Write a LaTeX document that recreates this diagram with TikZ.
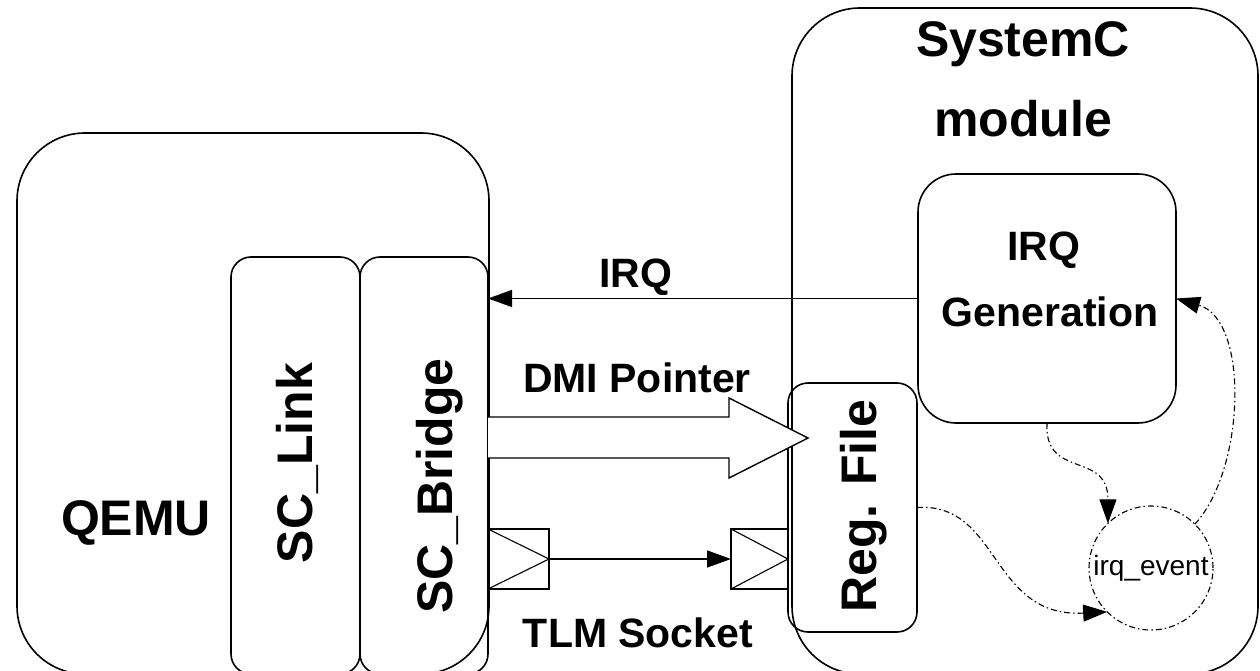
\documentclass[tikz,border=0pt]{standalone}
\usepackage{fontspec}
\setmainfont{Liberation Sans}
\usetikzlibrary{arrows.meta}
\tikzset{
  box/.style={draw=black, line width=1.6pt, fill=none, inner sep=0pt, outer sep=0pt, anchor=north west},
  bigf/.style={font=\fontsize{50}{60}\selectfont\bfseries, inner sep=0pt},
  midf/.style={font=\fontsize{41}{50}\selectfont\bfseries, inner sep=0pt},
  smallf/.style={font=\fontsize{28}{34}\selectfont, inner sep=0pt},
  conn/.style={line width=1.4pt, -{Triangle[length=24pt,width=17pt]}},
  dd/.style={line width=1.1pt, dash pattern=on 6pt off 3pt on 1.5pt off 3pt},
}
\begin{document}
\begin{tikzpicture}[x=1pt,y=-1pt]
\useasboundingbox (0,0) rectangle (1260,671);
% outer boxes
\node[box, rounded corners=68pt, minimum width=472pt, minimum height=541pt] (qemu) at (17,133) {};
\node[box, rounded corners=68pt, minimum width=466pt, minimum height=666pt] (sysc) at (792,8) {};
\node[box, rounded corners=20pt, minimum width=129pt, minimum height=417pt] (link) at (231,257) {};
\node[box, rounded corners=20pt, minimum width=128pt, minimum height=417pt] (bridge) at (360,257) {};
\node[box, rounded corners=38pt, minimum width=258pt, minimum height=249pt] (irqgen) at (918,174) {};
\node[box, rounded corners=20pt, minimum width=129pt, minimum height=249pt] (reg) at (788,383) {};
% ports
\node[box, minimum width=61pt, minimum height=60pt] (pL) at (488,529) {};
\node[box, minimum width=57pt, minimum height=60pt] (pR) at (731,529) {};
\draw[line width=1.1pt] (pL.north west) -- (pL.east) -- (pL.south west);
\draw[line width=1.1pt] (pR.north west) -- (pR.east) -- (pR.south west);
% event circle
\node[circle, draw, dd, minimum size=124pt, inner sep=0pt, outer sep=0pt] (ev) at (1151,568) {};
\node[smallf] (evl) at (1151,568) {irq\_event};
% labels
\node[bigf, anchor=base] (qemul) at (136,535) {QEMU};
\node[bigf, anchor=base] (syscl1) at (1023,57) {SystemC};
\node[bigf, anchor=base] (syscl2) at (1023,137) {module};
\node[bigf, anchor=base, rotate=90] (linkl) at (312,463) {SC\_Link};
\node[bigf, anchor=base, rotate=90] (bridgel) at (452,486) {SC\_Bridge};
\node[bigf, anchor=base, rotate=90] (regl) at (876,506) {Reg. File};
\node[midf, anchor=base] (irqgl1) at (1044,260) {IRQ};
\node[midf, anchor=base] (irqgl2) at (1050,326) {Generation};
\node[midf, anchor=base] (irql) at (636,287) {IRQ};
\node[midf, anchor=base] (dmil) at (637,392) {DMI Pointer};
\node[midf, anchor=base] (tlml) at (638,647) {TLM Socket};
% connectors
\draw[conn] (irqgen.west) -- (irqgen.west -| bridge.east);
\draw[conn] (pL.east) -- (pR.west);
% DMI big arrow
\coordinate (dmiTip) at (808,438);
\draw[line width=1.4pt, fill=white, line join=miter]
  (bridge.east |- 0,417) -- (729,417) -- (729,398) -- (dmiTip) -- (729,478) -- (729,458) -- (bridge.east |- 0,458);
% dashed event connectors
\draw[dd, -{Triangle[length=24pt,width=17pt]}] (irqgen.south) .. controls (1044,480) and (1108,450) .. (ev.134);
\draw[dd, -{Triangle[length=24pt,width=17pt]}] (reg.east) .. controls (1000,502) and (990,618) .. (ev.225);
\draw[dd, -{Triangle[length=24pt,width=17pt]}] (ev.45) .. controls (1245,470) and (1250,320) .. (irqgen.east);
\end{tikzpicture}
\end{document}
